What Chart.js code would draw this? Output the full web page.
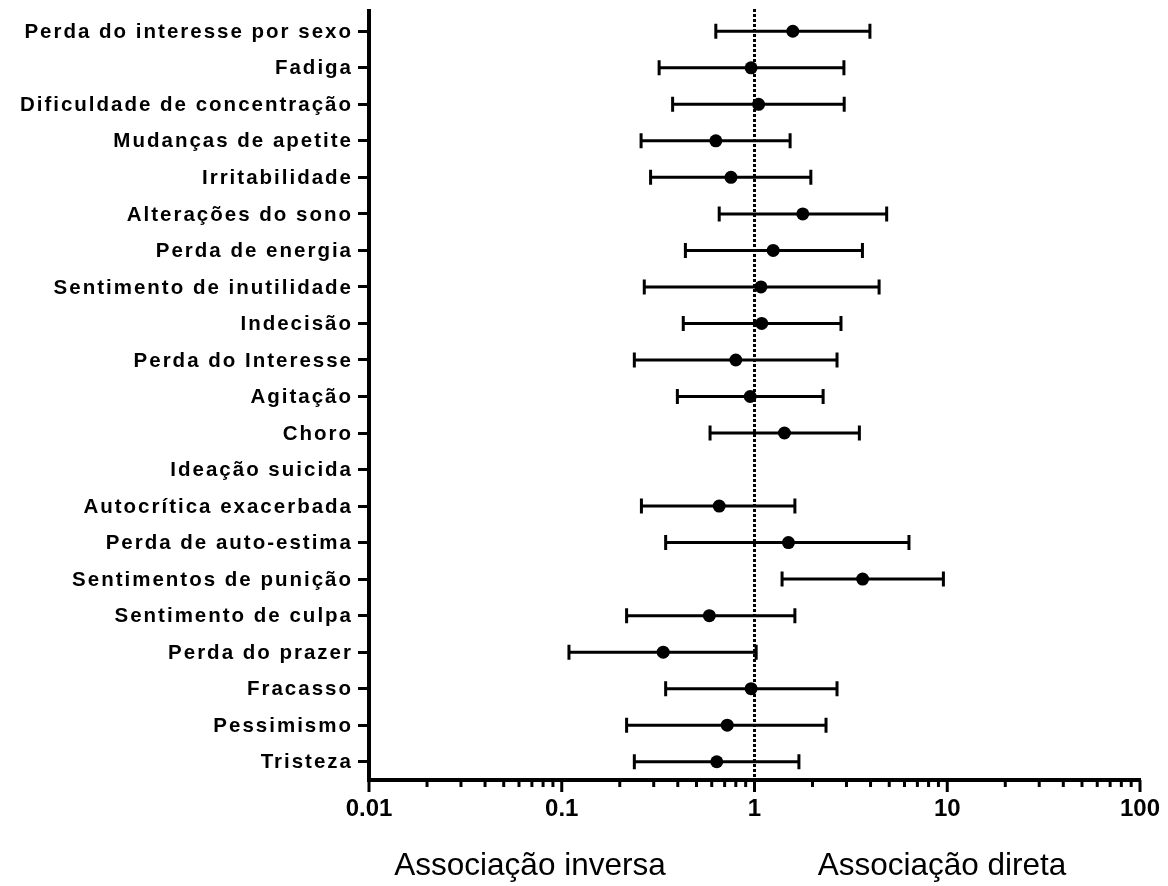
<!DOCTYPE html>
<html>
<head>
<meta charset="utf-8">
<script src="https://cdn.jsdelivr.net/npm/chart.js@4"></script>
<style>
    html, body { margin: 0; padding: 0; background: #fff; }
    #wrap { width: 1168px; height: 886px; }
</style>
</head>
<body>
<div id="wrap"><canvas id="forest" width="1168" height="886"></canvas></div>
<script>
const symptoms = [
    'Perda do interesse por sexo', 'Fadiga', 'Dificuldade de concentração',
    'Mudanças de apetite', 'Irritabilidade', 'Alterações do sono',
    'Perda de energia', 'Sentimento de inutilidade', 'Indecisão',
    'Perda do Interesse', 'Agitação', 'Choro', 'Ideação suicida',
    'Autocrítica exacerbada', 'Perda de auto-estima', 'Sentimentos de punição',
    'Sentimento de culpa', 'Perda do prazer', 'Fracasso', 'Pessimismo', 'Tristeza'
];
const oddsRatio = [1.58, 0.96, 1.05, 0.63, 0.755, 1.78, 1.25, 1.08, 1.09, 0.80, 0.95, 1.43, null,
    0.656, 1.50, 3.64, 0.583, 0.336, 0.96, 0.722, 0.637];
const lowerCI = [0.63, 0.32, 0.376, 0.258, 0.289, 0.656, 0.438, 0.268, 0.427, 0.238, 0.398, 0.588, null,
    0.259, 0.346, 1.39, 0.217, 0.109, 0.346, 0.217, 0.238];
const upperCI = [3.97, 2.91, 2.92, 1.53, 1.96, 4.85, 3.63, 4.43, 2.81, 2.68, 2.27, 3.50, null,
    1.62, 6.33, 9.55, 1.62, 1.02, 2.68, 2.35, 1.70];
const xTicks = [0.01, 0.1, 1, 10, 100];
const xTickLabels = ['0.01', '0.1', '1', '10', '100'];
const refValue = 1;
const captionLeft = 'Associação inversa';
const captionRight = 'Associação direta';

const fontFamily = '"Liberation Sans", Arial, Helvetica, sans-serif';

function majorIndex(v) {
    return xTicks.findIndex(t => Math.abs(Math.log10(v) - Math.log10(t)) < 1e-6);
}

const forestExtras = {
    id: 'forestExtras',
    beforeDatasetsDraw(chart) {
        const ctx = chart.ctx;
        const xs = chart.scales.x, ys = chart.scales.y;
        const area = chart.chartArea;
        ctx.save();
        ctx.strokeStyle = '#000';

        // linha de referencia pontilhada
        const rx = xs.getPixelForValue(refValue);
        ctx.lineWidth = 3;
        ctx.setLineDash([3, 2]);
        ctx.beginPath();
        ctx.moveTo(rx, 9);
        ctx.lineTo(rx, area.bottom);
        ctx.stroke();
        ctx.setLineDash([]);

        // barras de erro (IC)
        ctx.lineWidth = 3;
        symptoms.forEach((s, i) => {
            if (lowerCI[i] == null) return;
            const y = ys.getPixelForValue(i);
            const x1 = xs.getPixelForValue(lowerCI[i]);
            const x2 = xs.getPixelForValue(upperCI[i]);
            ctx.beginPath();
            ctx.moveTo(x1, y);
            ctx.lineTo(x2, y);
            ctx.moveTo(x1, y - 7.5);
            ctx.lineTo(x1, y + 7.5);
            ctx.moveTo(x2, y - 7.5);
            ctx.lineTo(x2, y + 7.5);
            ctx.stroke();
        });
        ctx.restore();
    },
    afterDraw(chart) {
        const ctx = chart.ctx;
        const xs = chart.scales.x, ys = chart.scales.y;
        const area = chart.chartArea;
        ctx.save();
        ctx.fillStyle = '#000';
        ctx.strokeStyle = '#000';

        // eixo y sobe um pouco acima da area
        ctx.fillRect(area.left - 2, 9, 4, area.top - 9 + 2);

        // ticks do eixo x (maiores e menores)
        ctx.lineWidth = 3;
        xs.ticks.forEach(t => {
            const px = xs.getPixelForValue(t.value);
            const len = majorIndex(t.value) >= 0 ? 12 : 7;
            ctx.beginPath();
            ctx.moveTo(px, area.bottom);
            ctx.lineTo(px, area.bottom + len);
            ctx.stroke();
        });

        // rotulos das categorias (espacados como no original)
        ctx.font = 'bold 20.5px ' + fontFamily;
        ctx.letterSpacing = '2px';
        ctx.textAlign = 'right';
        ctx.textBaseline = 'middle';
        symptoms.forEach((s, i) => {
            ctx.fillText(s, area.left - 16, ys.getPixelForValue(i) + 1);
        });
        ctx.letterSpacing = '0px';

        // legendas de baixo
        ctx.font = '31.5px ' + fontFamily;
        ctx.textAlign = 'center';
        ctx.fillText(captionLeft, 530, 866);
        ctx.fillText(captionRight, 942, 866);
        ctx.restore();
    }
};

const ctx = document.getElementById('forest').getContext('2d');
const chart = new Chart(ctx, {
    type: 'scatter',
    data: {
        datasets: [{
            data: symptoms.map((s, i) => oddsRatio[i] == null ? null : { x: oddsRatio[i], y: s }).filter(p => p),
            backgroundColor: '#000',
            borderColor: '#000',
            borderWidth: 0,
            pointRadius: 6.5,
            pointHoverRadius: 6.5
        }]
    },
    options: {
        responsive: false,
        animation: false,
        layout: { padding: { top: 13, right: 28, left: 0, bottom: 0 } },
        plugins: { legend: { display: false }, tooltip: { enabled: false } },
        scales: {
            x: {
                type: 'logarithmic',
                position: 'bottom',
                min: 0.01,
                max: 100,
                border: { display: true, width: 4, color: '#000' },
                grid: { display: false, drawTicks: false },
                afterBuildTicks: scale => {
                    const ticks = [];
                    for (let e = -2; e < 2; e++) {
                        for (let m = 1; m <= 9; m++) ticks.push({ value: m * Math.pow(10, e) });
                    }
                    ticks.push({ value: 100 });
                    scale.ticks = ticks;
                },
                afterFit: scale => {
                    scale.height = 106;
                    scale.paddingLeft = 0;
                    scale.paddingRight = 0;
                },
                ticks: {
                    autoSkip: false,
                    maxRotation: 0,
                    padding: 15,
                    color: '#000',
                    font: { family: fontFamily, size: 24, weight: 'bold' },
                    callback: v => {
                        const k = majorIndex(v);
                        return k >= 0 ? xTickLabels[k] : '';
                    }
                }
            },
            y: {
                type: 'category',
                labels: symptoms,
                offset: true,
                border: { display: true, width: 4, color: '#000' },
                grid: { display: true, drawOnChartArea: false, drawTicks: true, tickLength: 11, lineWidth: 3, color: '#000' },
                afterFit: scale => { scale.width = 369; },
                ticks: {
                    display: false,
                    autoSkip: false
                }
            }
        }
    },
    plugins: [forestExtras]
});
</script>
</body>
</html>
